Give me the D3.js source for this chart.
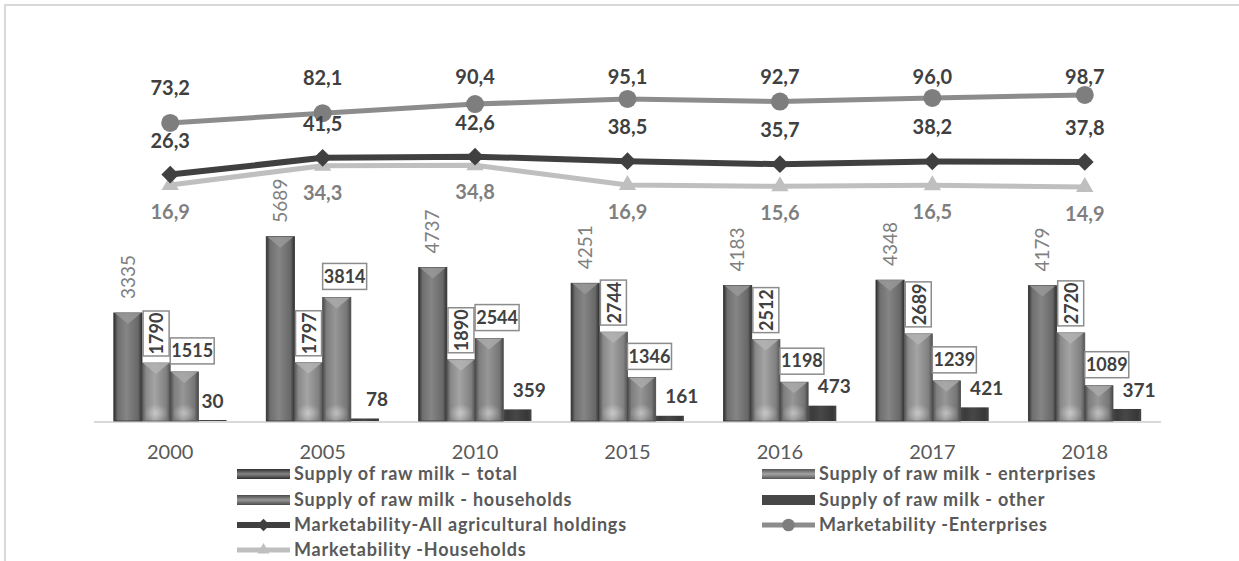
<!DOCTYPE html>
<html>
<head>
<meta charset="utf-8">
<script src="https://cdnjs.cloudflare.com/ajax/libs/d3/7.8.5/d3.min.js"></script>
<style>
	body { margin: 0; background: #fff; }
	svg { display: block; font-family: Lato, "Open Sans", sans-serif; }
</style>
</head>
<body>
<div id="chart1"></div>
<script>
// chart values
var years = ["2000", "2005", "2010", "2015", "2016", "2017", "2018"];
var supplyTotal = [3335, 5689, 4737, 4251, 4183, 4348, 4179];
var supplyEnterprises = [1790, 1797, 1890, 2744, 2512, 2689, 2720];
var supplyHouseholds = [1515, 3814, 2544, 1346, 1198, 1239, 1089];
var supplyOther = [30, 78, 359, 161, 473, 421, 371];
var marketAll = [26.3, 41.5, 42.6, 38.5, 35.7, 38.2, 37.8];
var marketEnterprises = [73.2, 82.1, 90.4, 95.1, 92.7, 96.0, 98.7];
var marketHouseholds = [16.9, 34.3, 34.8, 16.9, 15.6, 16.5, 14.9];

(function() {
	var width = 1239,
		height = 561;

	var svg = d3.select("#chart1")
		.append("svg")
		.attr("width", width)
		.attr("height", height);

	var fmt = function(v) { return v.toFixed(1).replace(".", ","); };

	var barSeries = [
		{ key: "total", name: "Supply of raw milk \u2013 total", values: supplyTotal, edge: "#303030", mid: "#858585", top: "#9a9a9a" },
		{ key: "ent", name: "Supply of raw milk - enterprises", values: supplyEnterprises, edge: "#555555", mid: "#a4a4a4", top: "#b4b4b4" },
		{ key: "hh", name: "Supply of raw milk - households", values: supplyHouseholds, edge: "#4a4a4a", mid: "#979797", top: "#ababab" },
		{ key: "other", name: "Supply of raw milk - other", values: supplyOther, edge: "#474747", mid: "#474747", top: "#474747" }
	];

	var lineSeries = [
		{ key: "all", name: "Marketability-All agricultural holdings", values: marketAll, color: "#404040", width: 6, marker: "diamond", labelColor: "#404040", dy: -34 },
		{ key: "ent", name: "Marketability -Enterprises", values: marketEnterprises, color: "#8c8c8c", width: 5, marker: "circle", labelColor: "#404040", dy: -35 },
		{ key: "hh", name: "Marketability -Households", values: marketHouseholds, color: "#bfbfbf", width: 5, marker: "triangle", labelColor: "#7f7f7f", dy: 27 }
	];

	var x = d3.scaleBand()
		.domain(years)
		.range([94, 1161])
		.paddingInner(0.26)
		.paddingOuter(0.13);

	var xInner = d3.scaleBand()
		.domain(barSeries.map(function(s) { return s.key; }))
		.range([0, x.bandwidth()]);

	var yBar = d3.scaleLinear()
		.domain([0, 6000])
		.range([421, 421 - 6000 * 0.0324]);

	var yLine = d3.scaleLinear()
		.domain([0, 100])
		.range([203.5, 93.5]);

	// gradients for the bevelled bars
	var defs = svg.append("defs");
	barSeries.forEach(function(s) {
		var g = defs.append("linearGradient")
			.attr("id", "grad-" + s.key)
			.attr("x1", "0%").attr("x2", "100%");
		g.append("stop").attr("offset", "0%").attr("stop-color", s.edge);
		g.append("stop").attr("offset", "14%").attr("stop-color", d3.color(s.mid).darker(0.5));
		g.append("stop").attr("offset", "45%").attr("stop-color", s.mid);
		g.append("stop").attr("offset", "86%").attr("stop-color", d3.color(s.mid).darker(0.7));
		g.append("stop").attr("offset", "100%").attr("stop-color", s.edge);
	});
	var glow = defs.append("radialGradient").attr("id", "glow");
	glow.append("stop").attr("offset", "0%").attr("stop-color", "#fff").attr("stop-opacity", 0.4);
	glow.append("stop").attr("offset", "100%").attr("stop-color", "#fff").attr("stop-opacity", 0);

	// outer frame
	svg.append("path")
		.attr("d", "M5," + height + "V5H" + width)
		.attr("fill", "none")
		.attr("stroke", "#d9d9d9")
		.attr("stroke-width", 2);

	// baseline
	svg.append("line")
		.attr("x1", 94).attr("x2", 1161)
		.attr("y1", yBar(0) + 1).attr("y2", yBar(0) + 1)
		.attr("stroke", "#d9d9d9")
		.attr("stroke-width", 2);

	// x axis labels
	svg.selectAll(".year")
		.data(years)
		.enter().append("text")
		.attr("class", "year")
		.attr("x", function(d) { return x(d) + x.bandwidth() / 2; })
		.attr("y", 459)
		.attr("text-anchor", "middle")
		.attr("font-size", 20)
		.attr("fill", "#595959")
		.text(function(d) { return d; });

	// bars
	var groups = svg.selectAll(".grp")
		.data(years)
		.enter().append("g")
		.attr("class", "grp")
		.attr("transform", function(d) { return "translate(" + x(d) + ",0)"; });

	barSeries.forEach(function(s) {
		var bw = xInner.bandwidth();
		groups.each(function(yr, i) {
			var g = d3.select(this);
			var v = s.values[i];
			var bx = xInner(s.key);
			var top = yBar(v);
			var h = yBar(0) - top;
			g.append("rect")
				.attr("x", bx).attr("y", top)
				.attr("width", bw).attr("height", h)
				.attr("fill", "url(#grad-" + s.key + ")")
				.attr("stroke", s.key == "other" ? "none" : s.edge)
				.attr("stroke-width", 0.8);
			if (s.key != "other" && h > 12) {
				g.append("path")
					.attr("d", "M" + (bx + 1) + "," + top + "L" + (bx + bw - 1) + "," + top + "L" + (bx + bw / 2) + "," + (top + 11) + "Z")
					.attr("fill", s.top)
					.attr("opacity", 0.8);
				if (s.key != "total") {
					g.append("ellipse")
						.attr("cx", bx + bw / 2).attr("cy", yBar(0) - 8)
						.attr("rx", bw / 2 - 2).attr("ry", 9)
						.attr("fill", "url(#glow)");
				}
			}
		});
	});

	// bar labels
	groups.each(function(yr, i) {
		var g = d3.select(this);
		var bw = xInner.bandwidth();

		// total: rotated, plain grey
		var cx = xInner("total") + bw / 2;
		g.append("text")
			.attr("transform", "translate(" + cx + "," + (yBar(supplyTotal[i]) - 14) + ") rotate(-90)")
			.attr("dy", "0.35em")
			.attr("font-size", 19)
			.attr("fill", "#7f7f7f")
			.text(supplyTotal[i]);

		// enterprises: rotated, boxed, bold
		var ex = xInner("ent") + bw / 2;
		var eTop = yBar(supplyEnterprises[i]) - 7;
		g.append("rect")
			.attr("x", ex - 13).attr("y", eTop - 45)
			.attr("width", 26).attr("height", 45)
			.attr("fill", "#fff")
			.attr("stroke", "#8c8c8c")
			.attr("stroke-width", 1.5);
		g.append("text")
			.attr("transform", "translate(" + (ex + 1) + "," + (eTop - 22.5) + ") rotate(-90)")
			.attr("text-anchor", "middle")
			.attr("dy", "0.35em")
			.attr("font-size", 18)
			.attr("font-weight", "bold")
			.attr("fill", "#404040")
			.text(supplyEnterprises[i]);

		// households: horizontal, boxed, bold
		var hx = xInner("hh");
		var hTop = yBar(supplyHouseholds[i]) - 8;
		g.append("rect")
			.attr("x", hx).attr("y", hTop - 26)
			.attr("width", 44).attr("height", 26)
			.attr("fill", "#fff")
			.attr("stroke", "#8c8c8c")
			.attr("stroke-width", 1.5);
		g.append("text")
			.attr("x", hx + 22).attr("y", hTop - 13)
			.attr("text-anchor", "middle")
			.attr("dy", "0.35em")
			.attr("font-size", 18)
			.attr("font-weight", "bold")
			.attr("fill", "#404040")
			.text(supplyHouseholds[i]);

		// other: plain bold
		var ox = xInner("other") + bw / 2 + (i == 0 ? 0 : 12);
		g.append("text")
			.attr("x", ox).attr("y", yBar(supplyOther[i]) - 19)
			.attr("text-anchor", "middle")
			.attr("dy", "0.35em")
			.attr("font-size", 19)
			.attr("font-weight", "bold")
			.attr("fill", "#404040")
			.text(supplyOther[i]);
	});

	// lines
	var cxYear = function(d) { return x(d) + x.bandwidth() / 2; };
	var drawOrder = [lineSeries[2], lineSeries[0], lineSeries[1]];

	function marker(sel, type, color, scale) {
		scale = scale || 1;
		if (type == "circle") {
			sel.append("circle").attr("r", 9 * scale).attr("fill", "#7e7e7e");
		} else if (type == "diamond") {
			sel.append("path").attr("d", d3.symbol().type(d3.symbolDiamond2).size(200 * scale * scale)).attr("fill", color);
		} else {
			sel.append("path").attr("d", d3.symbol().type(d3.symbolTriangle).size(130 * scale * scale)).attr("fill", color);
		}
	}

	drawOrder.forEach(function(s) {
		var line = d3.line()
			.x(function(d, i) { return cxYear(years[i]); })
			.y(function(d) { return yLine(d); });
		svg.append("path")
			.datum(s.values)
			.attr("d", line)
			.attr("fill", "none")
			.attr("stroke", s.color)
			.attr("stroke-width", s.width)
			.attr("stroke-linejoin", "round");
		s.values.forEach(function(v, i) {
			var m = svg.append("g")
				.attr("transform", "translate(" + cxYear(years[i]) + "," + yLine(v) + ")");
			marker(m, s.marker, s.color);
		});
	});

	lineSeries.forEach(function(s) {
		svg.selectAll(".lbl-" + s.key)
			.data(s.values)
			.enter().append("text")
			.attr("x", function(d, i) { return cxYear(years[i]); })
			.attr("y", function(d) {
				var yy = yLine(d) + s.dy;
				return s.key == "ent" ? Math.max(yy, 77) : yy;
			})
			.attr("text-anchor", "middle")
			.attr("dy", "0.35em")
			.attr("font-size", 20)
			.attr("font-weight", "bold")
			.attr("fill", s.labelColor)
			.text(fmt);
	});

	// legend
	var legendItems = [
		{ col: 0, row: 0, kind: "bar", s: barSeries[0] },
		{ col: 1, row: 0, kind: "bar", s: barSeries[1] },
		{ col: 0, row: 1, kind: "bar", s: barSeries[2] },
		{ col: 1, row: 1, kind: "bar", s: barSeries[3] },
		{ col: 0, row: 2, kind: "line", s: lineSeries[0] },
		{ col: 1, row: 2, kind: "line", s: lineSeries[1] },
		{ col: 0, row: 3, kind: "line", s: lineSeries[2] }
	];
	var colX = [237, 762];
	var rowY = [474, 500, 525, 550];

	var leg = svg.selectAll(".leg")
		.data(legendItems)
		.enter().append("g")
		.attr("class", "leg")
		.attr("transform", function(d) { return "translate(" + colX[d.col] + "," + rowY[d.row] + ")"; });

	leg.each(function(d) {
		var g = d3.select(this);
		if (d.kind == "bar") {
			var lg = defs.append("linearGradient")
				.attr("id", "leg-" + d.s.key)
				.attr("x1", "0%").attr("x2", "0%").attr("y1", "0%").attr("y2", "100%");
			lg.append("stop").attr("offset", "0%").attr("stop-color", d.s.edge);
			lg.append("stop").attr("offset", "50%").attr("stop-color", d.s.mid);
			lg.append("stop").attr("offset", "100%").attr("stop-color", d.s.edge);
			g.append("rect")
				.attr("x", 0).attr("y", -5)
				.attr("width", 53).attr("height", 10)
				.attr("fill", d.s.key == "other" ? d.s.edge : "url(#leg-" + d.s.key + ")");
		} else {
			g.append("line")
				.attr("x1", 0).attr("x2", 53)
				.attr("stroke", d.s.color)
				.attr("stroke-width", d.s.width);
			var m = g.append("g").attr("transform", "translate(26.5,0)");
			marker(m, d.s.marker, d.s.color, 0.7);
		}
		g.append("text")
			.attr("x", 57)
			.attr("dy", "0.35em")
			.attr("font-size", 18)
			.attr("letter-spacing", 0.8)
			.attr("font-weight", "bold")
			.attr("fill", "#595959")
			.text(d.s.name);
	});
})();
</script>
</body>
</html>
